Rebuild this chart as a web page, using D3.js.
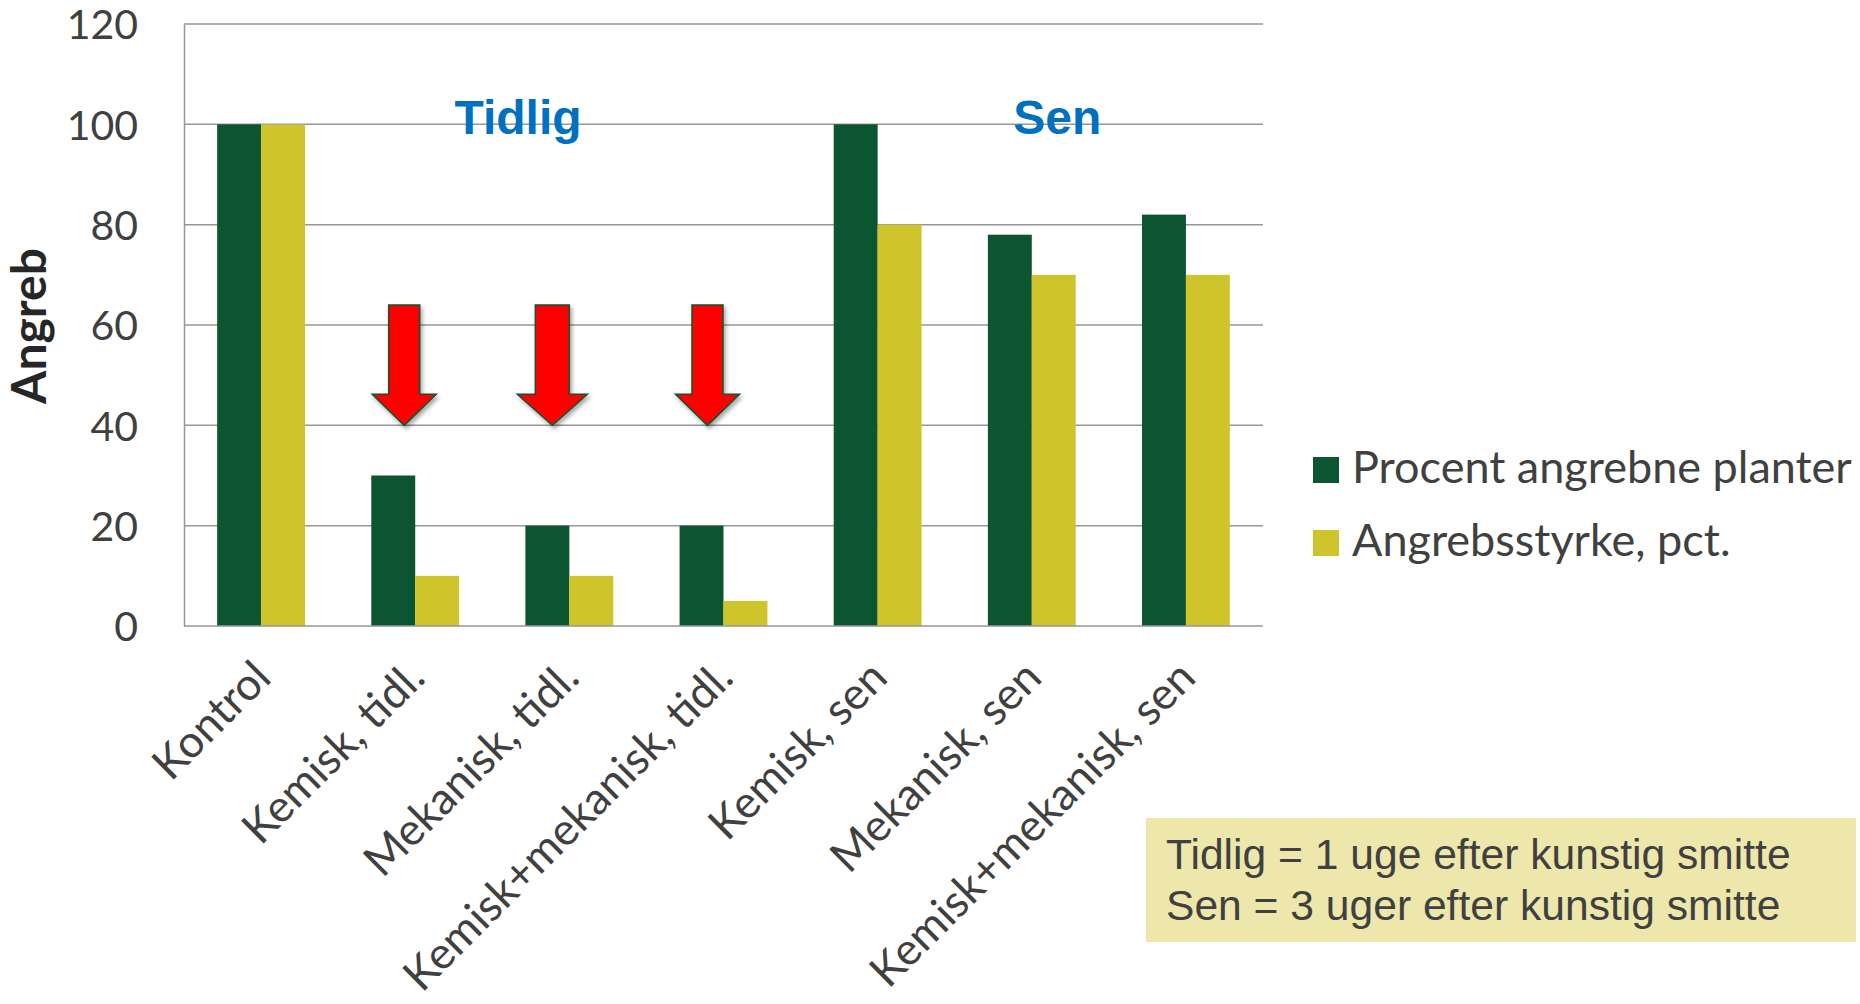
<!DOCTYPE html>
<html>
<head>
<meta charset="utf-8">
<script src="https://cdn.jsdelivr.net/npm/d3@7"></script>
<style>
  html, body { margin: 0; padding: 0; background: #ffffff; }
  svg { display: block; }
</style>
</head>
<body>
<script>
// ---------- data ----------
const categories = ["Kontrol", "Kemisk, tidl.", "Mekanisk, tidl.", "Kemisk+mekanisk, tidl.", "Kemisk, sen", "Mekanisk, sen", "Kemisk+mekanisk, sen"];
const procentAngrebnePlanter = [100, 30, 20, 20, 100, 78, 82];
const angrebsstyrke = [100, 10, 10, 5, 80, 70, 70];
const seriesNames = ["Procent angrebne planter", "Angrebsstyrke, pct."];
const yTicks = [0, 20, 40, 60, 80, 100, 120];
const yTitle = "Angreb";
const groupLabels = ["Tidlig", "Sen"];
const arrowCategories = ["Kemisk, tidl.", "Mekanisk, tidl.", "Kemisk+mekanisk, tidl."];
const arrowRange = [64, 40];           // arrow from value 64 down to 40
const noteLines = ["Tidlig = 1 uge efter kunstig smitte", "Sen = 3 uger efter kunstig smitte"];

// ---------- layout / style ----------
const W = 1860, H = 1004;
const plot = { left: 184, right: 1263, top: 24, bottom: 626 };
const colors = { green: "#0b5630", yellow: "#d0c42c", grid: "#979797", text: "#404040", blue: "#0070c0", note: "#ede7ab" };

const svg = d3.select("body").append("svg").attr("width", W).attr("height", H);

const defs = svg.append("defs");
const f = defs.append("filter").attr("id", "shadow").attr("x", "-50%").attr("y", "-50%").attr("width", "200%").attr("height", "200%");
f.append("feDropShadow").attr("dx", 2).attr("dy", 3).attr("stdDeviation", 2).attr("flood-color", "#000").attr("flood-opacity", 0.35);

const x = d3.scaleBand().domain(categories).range([plot.left, plot.right]).paddingInner(0.43).paddingOuter(0.215);
const y = d3.scaleLinear().domain([0, 120]).range([plot.bottom, plot.top]);
const step = x.step();
const bw = x.bandwidth() / 2;

// gridlines
svg.append("g")
  .selectAll("line").data(yTicks.filter(d => d > 0)).join("line")
  .attr("x1", plot.left).attr("x2", plot.right)
  .attr("y1", d => y(d)).attr("y2", d => y(d))
  .attr("stroke", colors.grid).attr("stroke-width", 1.5);

// y axis (labels)
const yAxis = d3.axisLeft(y).tickValues(yTicks).tickSize(0).tickPadding(46);
const gy = svg.append("g").attr("transform", `translate(${plot.left},0)`).call(yAxis);
gy.select(".domain").attr("stroke", colors.grid).attr("stroke-width", 1.5);
gy.selectAll("text").attr("font-family", "Lato, sans-serif").attr("font-size", 41).attr("fill", colors.text).attr("dy", "0.36em");

// bars
const g = svg.append("g");
g.selectAll("rect.s1").data(categories).join("rect").attr("class", "s1")
  .attr("x", d => x(d)).attr("width", bw)
  .attr("y", (d, i) => y(procentAngrebnePlanter[i]))
  .attr("height", (d, i) => y(0) - y(procentAngrebnePlanter[i]))
  .attr("fill", colors.green);
g.selectAll("rect.s2").data(categories).join("rect").attr("class", "s2")
  .attr("x", d => x(d) + bw).attr("width", bw)
  .attr("y", (d, i) => y(angrebsstyrke[i]))
  .attr("height", (d, i) => y(0) - y(angrebsstyrke[i]))
  .attr("fill", colors.yellow);

// x axis line
svg.append("line").attr("x1", plot.left).attr("x2", plot.right).attr("y1", y(0)).attr("y2", y(0))
  .attr("stroke", colors.grid).attr("stroke-width", 1.5);

// x labels rotated
svg.append("g").selectAll("text").data(categories).join("text")
  .attr("transform", d => `translate(${x(d) + x.bandwidth() / 2 + 12},${y(0) + 54}) rotate(-45)`)
  .attr("text-anchor", "end")
  .attr("font-family", "Lato, sans-serif").attr("font-size", 44.5).attr("fill", colors.text)
  .text(d => d);

// separators (group boundaries)
const sepIdx = [1.05, 3.98];
svg.append("g").selectAll("line").data(sepIdx).join("line")
  .attr("x1", d => plot.left + d * step).attr("x2", d => plot.left + d * step)
  .attr("y1", 0).attr("y2", y(0) + 5)
  .attr("stroke", colors.green).attr("stroke-width", 4.5)
  .attr("filter", "url(#shadow)");

// group labels
const groupIdx = [2.167, 5.665];
svg.append("g").selectAll("text").data(groupLabels).join("text")
  .attr("x", (d, i) => plot.left + groupIdx[i] * step)
  .attr("y", y(100) + 10)
  .attr("text-anchor", "middle")
  .attr("font-family", "'Liberation Sans', Arial, sans-serif").attr("font-weight", "bold")
  .attr("font-size", 48).attr("fill", colors.blue)
  .text(d => d);

// arrows
const arrowOffsets = [-11, -17, -16];
const shaftW = 31, headW = 64;
const yTop = y(arrowRange[0]), yTip = y(arrowRange[1]);
const yHead = yTip - 31;
svg.append("g").selectAll("path").data(arrowCategories).join("path")
  .attr("d", (d, i) => {
    const cx = x(d) + x.bandwidth() / 2 + arrowOffsets[i];
    const sw = i === 1 ? shaftW + 3 : shaftW, hw = i === 1 ? headW + 6 : headW;
    return `M${cx - sw / 2},${yTop} L${cx + sw / 2},${yTop} L${cx + sw / 2},${yHead} L${cx + hw / 2},${yHead} L${cx},${yTip} L${cx - hw / 2},${yHead} L${cx - sw / 2},${yHead} Z`;
  })
  .attr("fill", "#ff0000").attr("stroke", colors.green).attr("stroke-width", 1.5)
  .attr("stroke-linejoin", "miter")
  .attr("filter", "url(#shadow)");

// y title
svg.append("text")
  .attr("transform", `translate(46,326) rotate(-90)`)
  .attr("text-anchor", "middle")
  .attr("font-family", "Lato, sans-serif").attr("font-weight", "bold")
  .attr("font-size", 48).attr("fill", "#262626")
  .text(yTitle);

// legend
const legend = svg.append("g").attr("transform", "translate(1313,457)");
const legendColors = [colors.green, colors.yellow];
seriesNames.forEach((name, i) => {
  const row = legend.append("g").attr("transform", `translate(0,${i * 73})`);
  row.append("rect").attr("x", 0).attr("y", 0).attr("width", 26).attr("height", 26).attr("fill", legendColors[i]);
  row.append("text").attr("x", 39).attr("y", 26)
    .attr("font-family", "Lato, sans-serif").attr("font-size", 45).attr("fill", colors.text)
    .text(name);
});

// note box
const note = svg.append("g").attr("transform", "translate(1146,818)");
note.append("rect").attr("width", 710).attr("height", 124).attr("fill", colors.note);
note.selectAll("text").data(noteLines).join("text")
  .attr("x", 20).attr("y", (d, i) => 51 + i * 51)
  .attr("font-family", "'Liberation Sans', Arial, sans-serif").attr("font-size", 42.6).attr("fill", colors.text)
  .text(d => d);
</script>
</body>
</html>
